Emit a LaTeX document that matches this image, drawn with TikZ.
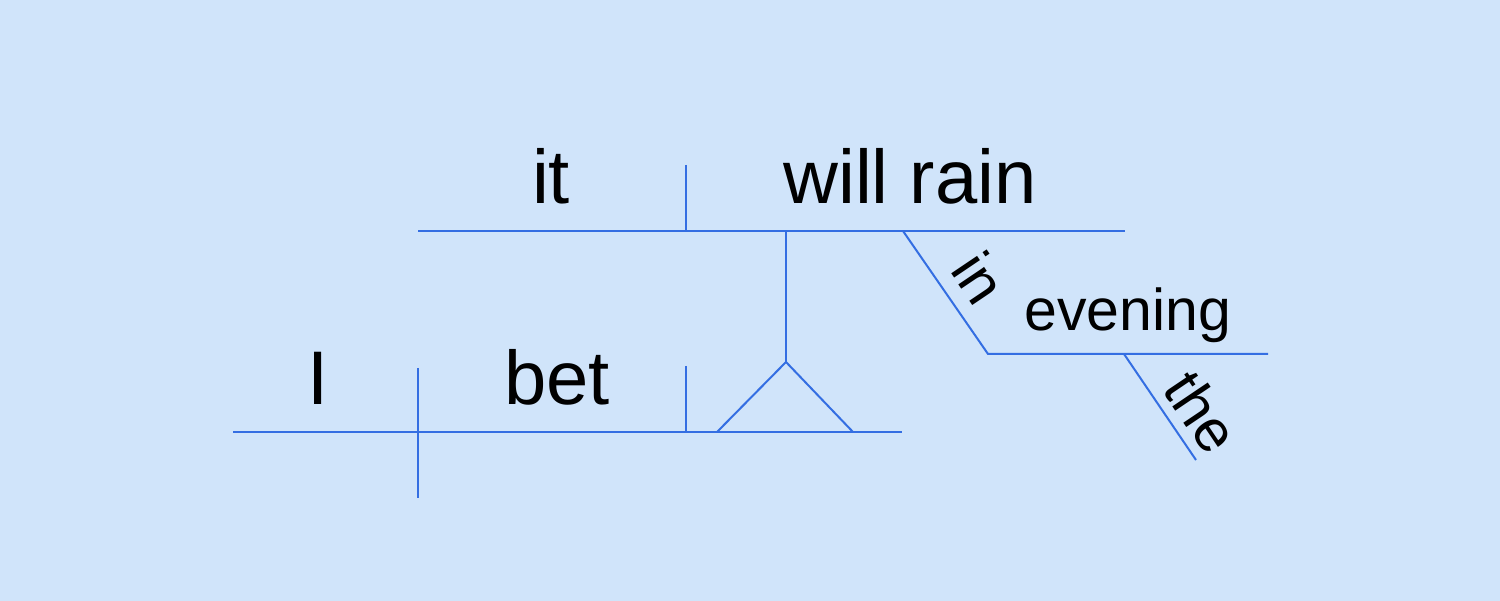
\documentclass[tikz,border=0pt]{standalone}
\usepackage{fontspec}
\setmainfont{Liberation Sans}
\definecolor{bg}{RGB}{208,228,250}
\definecolor{ln}{RGB}{52,110,226}
\begin{document}
\begin{tikzpicture}[x=1pt,y=-1pt,
  rule/.style={draw=ln,line width=2pt},
  big/.style={inner sep=0pt,anchor=base,font=\fontsize{76}{90}\selectfont},
  small/.style={inner sep=0pt,font=\fontsize{59}{70}\selectfont}]
\fill[bg] (0,0) rectangle (1500,601);
\useasboundingbox (0,0) rectangle (1500,601);
% coordinates
\coordinate (tl) at (418,231);
\coordinate (tr) at (1125,231);
\coordinate (tdiv1) at (686,165);
\coordinate (tdiv2) at (686,231);
\coordinate (stemtop) at (786,231);
\coordinate (apex) at (786,362);
\coordinate (triL) at (717,432);
\coordinate (triR) at (853,432);
\coordinate (bl) at (233,432);
\coordinate (br) at (902,432);
\coordinate (sv1) at (418,368);
\coordinate (sv2) at (418,498);
\coordinate (vo1) at (686,366);
\coordinate (vo2) at (686,432);
\coordinate (inTop) at (903,231);
\coordinate (inBot) at (988,354);
\coordinate (evR) at (1268,354);
\coordinate (theTop) at (1124,354);
\coordinate (theBot) at (1196,460);
% lines
\draw[rule] (tl) -- (tr);
\draw[rule] (tdiv1) -- (tdiv2);
\draw[rule] (stemtop) -- (apex);
\draw[rule,line join=miter] (triL) -- (apex) -- (triR);
\draw[rule] (bl) -- (br);
\draw[rule] (sv1) -- (sv2);
\draw[rule] (vo1) -- (vo2);
\draw[rule] (inTop) -- (inBot) -- (evR);
\draw[rule] (theTop) -- (theBot);
% texts
\node[big] (it) at (551,204) {it};
\node[big] (willrain) at (910,204) {will rain};
\node[big] (I) at (318,405) {I};
\node[big] (bet) at (557,405) {bet};
\node[small,anchor=base] (evening) at (1128,331) {evening};
\node[small,rotate=-56] (in) at (980,278) {in};
\node[small,rotate=-56] (the) at (1202,412) {the};
\end{tikzpicture}
\end{document}
